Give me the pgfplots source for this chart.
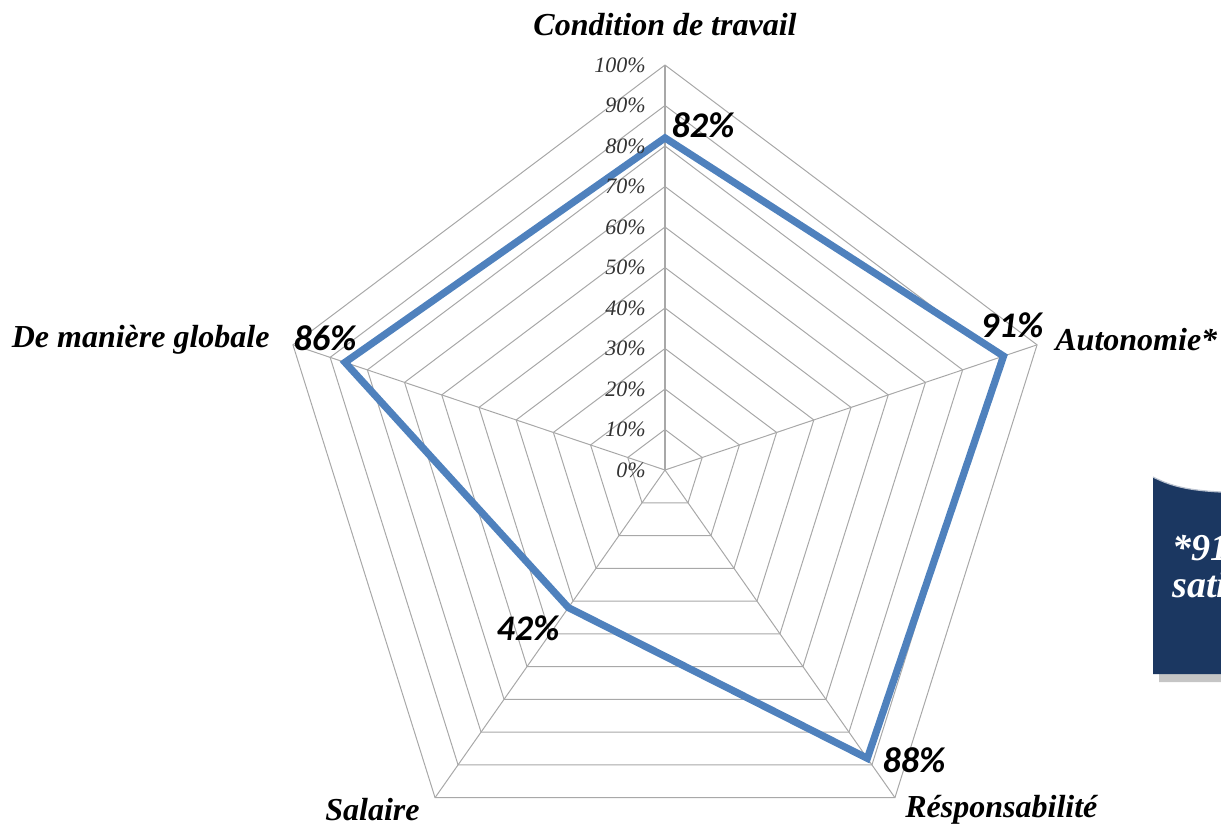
\documentclass[border=0pt]{standalone}
\usepackage{fontspec}
\setmainfont{Liberation Serif}
\newfontfamily\calib{Carlito}
\usepackage{pgfplots}
\pgfplotsset{compat=1.18}
\definecolor{lineblue}{HTML}{4F81BD}
\definecolor{navy}{HTML}{1B3761}
\definecolor{gridgray}{HTML}{A8A8A8}
\begin{document}
\begin{tikzpicture}
\clip (-332.5pt,-181pt) rectangle (278pt,235pt);
\begin{axis}[anchor=origin, at={(0pt,0pt)}, x=1.956pt, y=2.025pt,
  xmin=-110, xmax=110, ymin=-110, ymax=110, hide axis, clip=false]
\pgfplotsinvokeforeach{10,20,30,40,50,60,70,80,90,100}{
  \addplot[gridgray, line width=0.5pt, data cs=polar] coordinates {(90,#1) (18,#1) (-54,#1) (-126,#1) (162,#1) (90,#1)};
}
\pgfplotsinvokeforeach{90,18,-54,-126,162}{
  \addplot[gridgray, line width=0.5pt, data cs=polar] coordinates {(#1,0) (#1,100)};
}
\addplot[lineblue, line width=3.6pt, line join=miter, data cs=polar] coordinates {(90,82) (18,91) (-54,88) (-126,42) (162,86) (90,82) (18,91)};
\end{axis}
% tick labels
\foreach \r in {0,10,...,100}{
  \node[anchor=east, inner sep=0pt, text=black!80, font=\fontsize{11}{13}\selectfont\itshape] at (-9.5pt,{\r*2.025pt}) {\r\%};
}
% category labels
\begin{scope}[every node/.style={inner sep=0pt, font=\fontsize{16}{19}\selectfont\bfseries\itshape}]
\node at (0pt,222.5pt) {Condition de travail};
\node[anchor=west] at (195pt,65pt) {Autonomie*};
\node[anchor=west] at (120pt,-170pt) {Résponsabilité};
\node[anchor=east] at (-122.5pt,-170pt) {Salaire};
\node[anchor=east] at (-197.5pt,65pt) {De manière globale};
\end{scope}
% value labels
\begin{scope}[every node/.style={inner sep=0pt, font=\fontsize{18}{21}\selectfont\calib\bfseries\itshape}]
\node at (19pt,172.5pt) {82\%};
\node at (173.5pt,72.5pt) {91\%};
\node at (124.5pt,-145pt) {88\%};
\node at (-68.5pt,-79pt) {42\%};
\node at (-170pt,66pt) {86\%};
\end{scope}
% text box
\fill[black!45, opacity=0.5] (247pt,-6.5pt) .. controls (258pt,-12pt) and (268pt,-14pt) .. (300pt,-14pt) -- (300pt,-106pt) -- (247pt,-106pt) -- cycle;
\fill[navy] (244pt,-3.5pt) .. controls (255pt,-9pt) and (265pt,-11.5pt) .. (300pt,-11.5pt) -- (300pt,-102pt) -- (244pt,-102pt) -- cycle;
\draw[white!70!navy, line width=0.6pt] (244pt,-3.5pt) .. controls (255pt,-9pt) and (265pt,-11.5pt) .. (300pt,-11.5pt);
\begin{scope}[every node/.style={inner sep=0pt, anchor=west, text=white, font=\fontsize{19}{22}\selectfont\bfseries\itshape}]
\node at (253.5pt,-39pt) {*91\% des salariés};
\node at (253.5pt,-59pt) {satisfaits de leur autonomie};
\end{scope}
\end{tikzpicture}
\end{document}
